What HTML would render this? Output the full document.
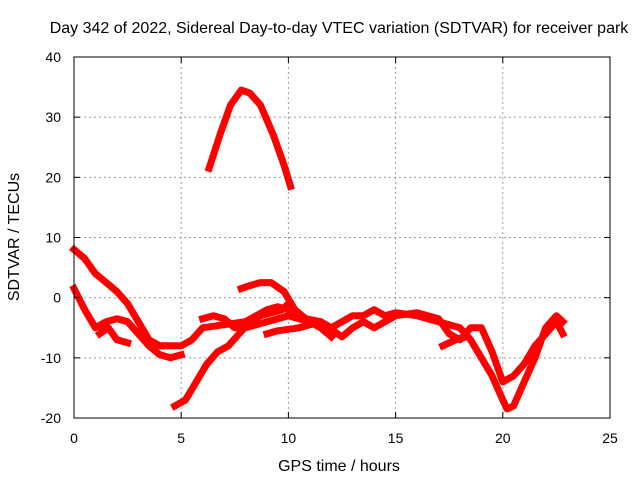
<!DOCTYPE html>
<html><head><meta charset="utf-8"><style>
body{margin:0;background:#fff;}
svg{display:block;font-family:"Liberation Sans",sans-serif;}
</style></head><body>
<svg id="chart" width="640" height="480" viewBox="0 0 640 480">
<text x="339" y="33" font-size="16" text-anchor="middle">Day 342 of 2022, Sidereal Day-to-day VTEC variation (SDTVAR) for receiver park</text>
<g id="grid"></g>
<g id="series"></g>
<rect x="74" y="57" width="536" height="361" fill="none" stroke="#000" stroke-width="1"/>
<g id="axes"></g>
<text x="339" y="471" font-size="16" text-anchor="middle">GPS time / hours</text>
<text transform="translate(19,237) rotate(-90)" font-size="16" text-anchor="middle">SDTVAR / TECUs</text>
</svg>
<script>
const xTicks=[0,5,10,15,20,25];
const yTicks=[-20,-10,0,10,20,30,40];
const arcH=[6.3,6.8,7.3,7.8,8.2,8.7,9.3,9.8,10.1];
const arcV=[21.5,27,32,34.5,34,32,27,22,18.5];
const s2H=[0,0.5,1,1.5,2,2.5,3,3.5,4,4.5,5,5.5,6,7,8,9,9.5,10,10.5,11,11.5,12];
const s2V=[8,6.5,4,2.5,1,-1,-4,-7,-8,-8,-8,-7,-5,-4.5,-4,-2,-1.5,-2,-3,-4,-5,-6.5];
const s3H=[0,0.5,1,1.5,2,2.5,3,3.5,4,4.5,5];
const s3V=[1.5,-2,-5,-4,-3.5,-4,-6,-8,-9.5,-10,-9.5];
const s4H=[1.2,1.6,2,2.5];
const s4V=[-6,-5,-7,-7.5];
const s5H=[4.7,5.2,5.7,6.2,6.7,7.2,7.7,8.2,8.7,9.2,9.7,10];
const s5V=[-18,-17,-14,-11,-9,-8,-6,-4,-3,-2.5,-2,-1];
const s6H=[7.8,8.2,8.7,9.2,9.8,10.3,10.8,11.5,12,12.5,13,13.5,14,14.5,15,16,17,18,18.5,19,19.5,20,20.2,20.5,21,21.5,22,22.5,22.8];
const s6V=[1.5,2,2.5,2.5,1,-2,-3.5,-4,-5,-4,-3,-3,-2,-3,-2.5,-3,-4,-5,-7,-10,-13,-17,-18.5,-18,-14,-10,-5,-3,-4];
const s7H=[9,9.5,10.5,11.5,12.5,13,13.5,14,14.5,15,16,17,17.5,18,18.5,19,19.5,20,20.5,21,21.5,22,22.5,22.8];
const s7V=[-6,-5.5,-5,-4,-6.5,-5,-4,-5,-4,-3,-2.5,-3.5,-6,-7,-5,-5,-9,-14,-13,-11,-8,-6,-4,-6];
const s8H=[6,6.5,7,7.5,8,9,10,11,12];
const s8V=[-3.5,-3,-3.5,-5,-5,-4,-3,-4,-5];
const s9H=[17.2,17.8,18.3];
const s9V=[-8,-7,-6.5];
const seriesH=[arcH,s2H,s3H,s4H,s5H,s6H,s7H,s8H,s9H];
const seriesV=[arcV,s2V,s3V,s4V,s5V,s6V,s7V,s8V,s9V];
const X0=74,X1=610,Y0=418,Y1=57;
function sx(h){return X0+(h-0)/(25-0)*(X1-X0);}
function sy(v){return Y0-(v+20)/60*(Y0-Y1);}
const NS="http://www.w3.org/2000/svg";
const grid=document.getElementById('grid'),axes=document.getElementById('axes'),ser=document.getElementById('series');
function mk(tag,attrs,parent){const e=document.createElementNS(NS,tag);for(const k in attrs)e.setAttribute(k,attrs[k]);parent.appendChild(e);return e;}
xTicks.forEach(t=>{
  const x=sx(t);
  if(t>0&&t<25){const g=mk('line',{x1:x,x2:x,y1:Y1,y2:Y0,stroke:'#999','stroke-dasharray':'2,3'},grid);
  
  }
  const tk=mk('line',{x1:x,x2:x,y1:Y0,y2:Y0-6,stroke:'#000'},axes);
  
  
  const tk2=mk('line',{x1:x,x2:x,y1:Y1,y2:Y1+6,stroke:'#000'},axes);
  
  
  const l=mk('text',{x:x,y:443,'font-size':14,'text-anchor':'middle'},axes);l.textContent=t;
  
  
});
yTicks.forEach(t=>{
  const y=sy(t);
  if(t>-20&&t<40){const g=mk('line',{x1:X0,x2:X1,y1:y,y2:y,stroke:'#999','stroke-dasharray':'2,3'},grid);
  
  }
  const tk=mk('line',{x1:X0,x2:X0+6,y1:y,y2:y,stroke:'#000'},axes);
  
  
  const tk2=mk('line',{x1:X1,x2:X1-6,y1:y,y2:y,stroke:'#000'},axes);
  
  
  const l=mk('text',{x:61,y:y+5,'font-size':14,'text-anchor':'end'},axes);l.textContent=t;
  
  
});
seriesH.forEach((hs,i)=>{
  const vs=seriesV[i];
  const pts=hs.map((h,j)=>sx(h).toFixed(1)+','+sy(vs[j]).toFixed(1)).join(' ');
  const p=mk('polyline',{points:pts,fill:'none',stroke:'#ff0000','stroke-width':7,'stroke-linejoin':'round','stroke-linecap':'square'},ser);
  
  
});
</script>
</body></html>
